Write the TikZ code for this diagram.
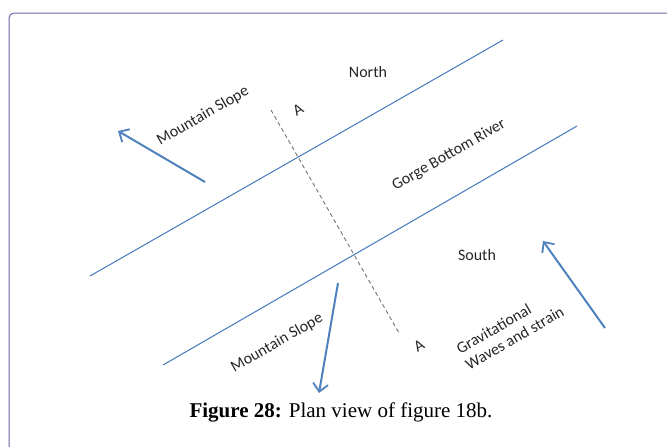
\documentclass[tikz,border=0pt]{standalone}
\usepackage{fontspec}
\setmainfont{Liberation Serif}
\newfontfamily\labelfont{Carlito}
\usetikzlibrary{arrows.meta}

\definecolor{framecol}{RGB}{105,98,165}
\definecolor{bankcol}{RGB}{79,129,189}

\begin{document}
\begin{tikzpicture}[
        x=1pt, y=-1pt,
        bank/.style={draw=bankcol, line width=1.1pt},
        section/.style={draw=black!55, line width=0.9pt, dash pattern=on 4pt off 3pt},
        slopearrow/.style={draw=bankcol, line width=2pt, -{Straight Barb[length=8pt, width=15pt, line width=1.8pt]}},
        lbl/.style={font=\labelfont\fontsize{16}{18}\selectfont, text=black!85, inner sep=0pt},
        tilt/.style={lbl, rotate=30}
    ]
    \useasboundingbox (0,0) rectangle (667,447);

    % frame
    \draw[framecol, line width=1pt, rounded corners=5pt] (9,447) |- (667,13);

    % river banks and section line
    \coordinate (n1) at (90,276);
    \coordinate (n2) at (503,40);
    \coordinate (s1) at (163,365);
    \coordinate (s2) at (577,126);
    \coordinate (a1) at (271,110);
    \coordinate (a2) at (399,333);
    \draw[bank] (n1) -- (n2);
    \draw[bank] (s1) -- (s2);
    \draw[section] (a1) -- (a2);

    % arrows
    \coordinate (up1) at (205,182);
    \coordinate (up2) at (118,131);
    \coordinate (dn1) at (338,283);
    \coordinate (dn2) at (319,393);
    \coordinate (gw1) at (605,328);
    \coordinate (gw2) at (543,241);
    \draw[slopearrow] (up1) -- (up2);
    \draw[slopearrow] (dn1) -- (dn2);
    \draw[slopearrow] (gw1) -- (gw2);

    % labels
    \node[lbl] (north) at (368,72) {North};
    \node[lbl] (south) at (477,255) {South};
    \node[tilt] (slopeN) at (203,116) {Mountain Slope};
    \node[tilt] (secA) at (298,110) {A};
    \node[tilt] (river) at (449,155) {Gorge Bottom River};
    \node[tilt] (slopeS) at (277,343) {Mountain Slope};
    \node[tilt] (secB) at (419,346) {A};
    \node[tilt, align=left] (grav) at (510,330) {Gravitational\\Waves and strain};

    % caption
    \node[font=\fontsize{21}{24}\selectfont, inner sep=0pt] (cap) at (341,412)
        {\textbf{Figure 28:} Plan view of figure 18b.};

\end{tikzpicture}
\end{document}
